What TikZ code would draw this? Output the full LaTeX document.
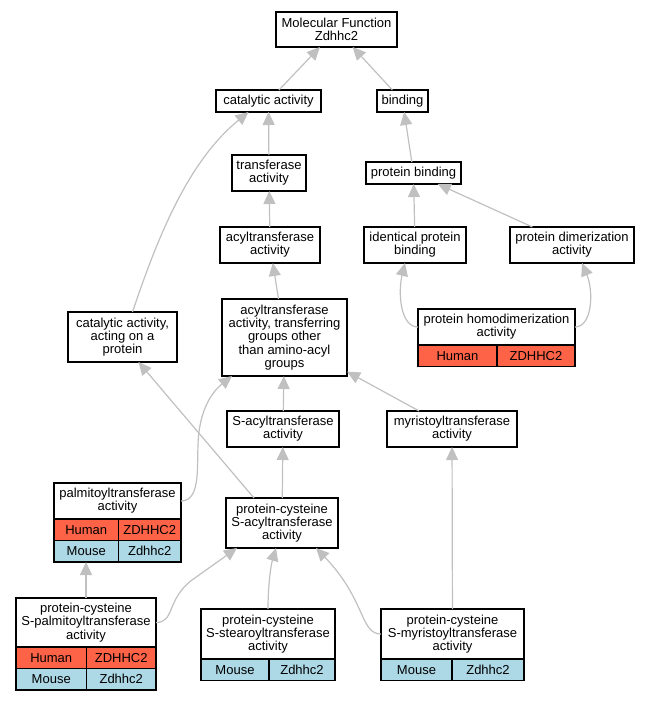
\documentclass[tikz,border=0pt]{standalone}
\usepackage{fontspec}
\setmainfont{Liberation Sans}
\usepackage{xcolor}
\usepackage{tikz}
\usetikzlibrary{arrows.meta,calc}
\definecolor{humanred}{RGB}{255,99,71}
\definecolor{mouseblue}{RGB}{173,216,230}
\definecolor{edgegray}{RGB}{192,192,192}

\begin{document}
\begin{tikzpicture}[x=1pt,y=-1pt,
    term/.style={draw=black, line width=1.3pt, fill=white, align=center, inner sep=1pt, outer sep=0pt,
      font=\fontsize{13}{13.2}\selectfont},
    human/.style={term, fill=humanred, minimum height=21.5pt, anchor=north west},
    mouse/.style={term, fill=mouseblue, minimum height=21.5pt, anchor=north west},
    isa/.style={draw=edgegray, line width=1.2pt, -{Triangle[length=13pt,width=12pt]}}]
                \useasboundingbox (0,0) rectangle (649,701);

                % Top terms
                \node[term, minimum width=121pt, minimum height=35pt] (mf) at (336.5,29.5) {Molecular Function\\Zdhhc2};
                \node[term, minimum width=105pt, minimum height=22pt] (cat) at (268.5,101) {catalytic activity};
                \node[term, minimum width=51pt, minimum height=22pt] (bind) at (402.5,101) {binding};
                \node[term, minimum width=74pt, minimum height=36pt] (trans) at (269,173) {transferase\\activity};
                \node[term, minimum width=95pt, minimum height=22pt] (pbind) at (413.5,173) {protein binding};
                \node[term, minimum width=100pt, minimum height=36pt] (acyl) at (270,245) {acyltransferase\\activity};
                \node[term, minimum width=102pt, minimum height=36pt] (ipb) at (415,245) {identical protein\\binding};
                \node[term, minimum width=124pt, minimum height=36pt] (pdim) at (572,245) {protein dimerization\\activity};

                % Homodimerization (human only)
                \node[term, minimum width=157pt, minimum height=36pt] (phomo) at (496.5,327) {protein homodimerization\\activity};
                \node[human, minimum width=79pt] (phomoH1) at (phomo.south west) {Human};
                \node[human, minimum width=78pt] (phomoH2) at (phomoH1.north east) {ZDHHC2};

                % Middle terms
                \node[term, minimum width=109pt, minimum height=50pt] (catProt) at (122.5,337) {catalytic activity,\\acting on a\\protein};
                \node[term, minimum width=125pt, minimum height=77pt] (acylT) at (284.5,337.5) {acyltransferase\\activity, transferring\\groups other\\than amino-acyl\\groups};
                \node[term, minimum width=112pt, minimum height=36pt] (sAcyl) at (283,429) {S-acyltransferase\\activity};
                \node[term, minimum width=130pt, minimum height=36pt] (myr) at (452,429) {myristoyltransferase\\activity};

                % Palmitoyltransferase
                \node[term, minimum width=127pt, minimum height=36pt] (palm) at (117.5,501) {palmitoyltransferase\\activity};
                \node[human, minimum width=64.5pt] (palmH1) at (palm.south west) {Human};
                \node[human, minimum width=62.5pt] (palmH2) at (palmH1.north east) {ZDHHC2};
                \node[mouse, minimum width=64.5pt] (palmM1) at (palmH1.south west) {Mouse};
                \node[mouse, minimum width=62.5pt] (palmM2) at (palmM1.north east) {Zdhhc2};

                \node[term, minimum width=112pt, minimum height=50pt] (pcSacyl) at (282,523) {protein-cysteine\\S-acyltransferase\\activity};

                % Leaf terms
                \node[term, minimum width=140pt, minimum height=49pt] (pcSpalm) at (86,622.5) {protein-cysteine\\S-palmitoyltransferase\\activity};
                \node[human, minimum width=70.5pt] (pcSpalmH1) at (pcSpalm.south west) {Human};
                \node[human, minimum width=69.5pt] (pcSpalmH2) at (pcSpalmH1.north east) {ZDHHC2};
                \node[mouse, minimum width=70.5pt] (pcSpalmM1) at (pcSpalmH1.south west) {Mouse};
                \node[mouse, minimum width=69.5pt] (pcSpalmM2) at (pcSpalmM1.north east) {Zdhhc2};

                \node[term, minimum width=134pt, minimum height=50pt] (pcSstear) at (268,634) {protein-cysteine\\S-stearoyltransferase\\activity};
                \node[mouse, minimum width=68pt] (pcSstearM1) at (pcSstear.south west) {Mouse};
                \node[mouse, minimum width=66pt] (pcSstearM2) at (pcSstearM1.north east) {Zdhhc2};

                \node[term, minimum width=143pt, minimum height=50pt] (pcSmyr) at (452.5,634) {protein-cysteine\\S-myristoyltransferase\\activity};
                \node[mouse, minimum width=71pt] (pcSmyrM1) at (pcSmyr.south west) {Mouse};
                \node[mouse, minimum width=72pt] (pcSmyrM2) at (pcSmyrM1.north east) {Zdhhc2};

                % is-a edges
                \draw[isa] (cat) -- (mf);
                \draw[isa] (bind) -- (mf);
                \draw[isa] (trans) -- (cat);
                \draw[isa] (pbind) -- (bind);
                \draw[isa] (acyl) -- (trans);
                \draw[isa] (ipb) -- (pbind);
                \draw[isa] (pdim) -- (pbind);
                \draw[isa] (phomo.west) .. controls (400,327) and (398,292) .. ($(ipb.south)+(-10,0)$);
                \draw[isa] (phomo.east) .. controls (592,327) and (594,292) .. ($(pdim.south)+(10,0)$);
                \draw[isa] ($(catProt.north)+(10,0)$) .. controls (160,230) and (190,160) .. ($(cat.south)+(-20,0)$);
                \draw[isa] (acylT) -- (acyl);
                \draw[isa] (sAcyl) -- (acylT);
                \draw[isa] (myr) -- (acylT);
                \draw[isa] (palm.east) .. controls (200,501) and (197,470) .. (198,445) .. controls (199,410) and (212,392) .. ($(acylT.south west)+(10,0)$);
                \draw[isa] (pcSacyl) -- (sAcyl);
                \draw[isa] ($(pcSacyl.north)+(-28,0)$) -- ($(catProt.south)+(16,0)$);
                \draw[isa] (pcSpalm.north) -- (pcSpalm.north |- palmM1.south);
                \draw[isa] (pcSpalm.east) .. controls (175,622.5) and (166,600) .. (192,580) -- ($(pcSacyl.south west)+(11,0)$);
                \draw[isa] (pcSstear.north) .. controls (268,585) and (271,565) .. ($(pcSacyl.south)+(-6,0)$);
                \draw[isa] (pcSmyr.west) .. controls (360,634) and (366,600) .. ($(pcSacyl.south east)+(-22,0)$);
                \draw[isa] (pcSmyr) -- (myr);
            \end{tikzpicture}
\end{document}
